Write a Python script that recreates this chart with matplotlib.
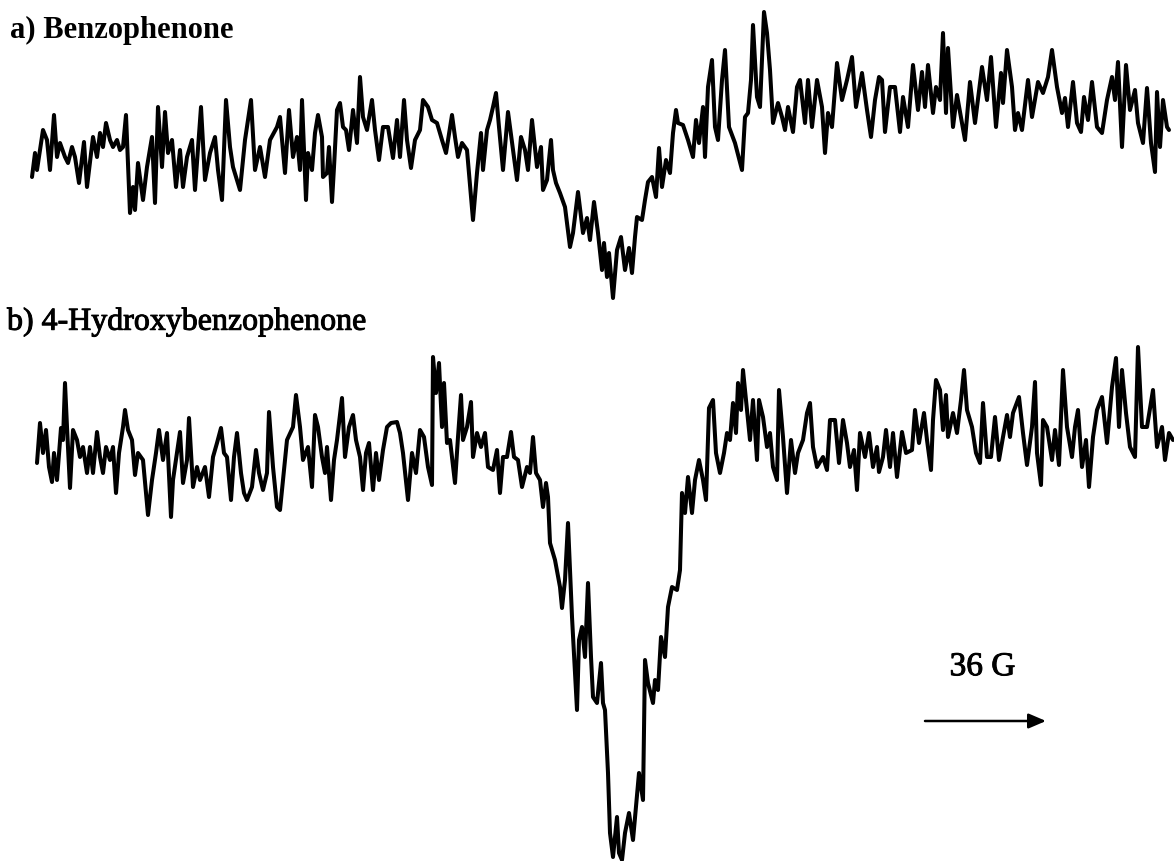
import matplotlib
matplotlib.use("Agg")
import matplotlib.pyplot as plt
import matplotlib.patheffects as pe

# ESR traces (field position, pen deflection; deflection grows downward)
field_a = [32, 35, 37, 43, 47, 50, 54, 57, 60, 65, 68, 72, 75, 79, 84, 87, 93, 97, 100, 103,
           106, 110, 113, 117, 120, 123, 126, 130, 133, 135, 138, 143, 147, 152, 155, 158, 162, 165, 168, 172,
           176, 180, 183, 187, 192, 195, 201, 205, 210, 215, 218, 222, 226, 230, 233, 240, 245, 251, 255, 260,
           265, 270, 277, 280, 285, 289,
           293, 297, 300, 302, 306, 308, 312, 315, 318, 322, 323, 327, 329, 332, 334, 337, 340, 343, 346, 349,
           353, 357, 360, 363, 367, 372, 375, 379, 383, 388, 393, 397, 400, 404, 407, 411, 415, 420, 423, 428,
           432, 437, 442, 446, 452, 455, 458, 462, 467, 473, 477, 481, 483, 487, 490, 493, 496, 499, 503, 508,
           513, 517, 521, 525, 528, 532, 537, 541, 543, 547, 551, 553, 556, 560, 565, 570, 573, 578,
           583, 587, 590, 594, 598, 602, 604, 607, 609, 613, 617, 621, 625, 629, 632, 635, 637, 642, 645, 648,
           652, 656, 659, 662, 666, 670, 673, 676, 678, 683, 688, 693, 696, 699, 703, 705, 708, 712, 715, 718,
           722, 725, 729, 735, 742, 745, 748, 751, 753, 757, 760, 764, 767, 770, 773, 778, 782, 785, 788, 793,
           797, 800, 805, 808, 812, 817, 822, 825, 828, 832, 837, 842, 847, 852, 856, 862, 867, 871, 875, 879,
           882, 885, 890, 895, 900, 903, 908, 913, 918, 922, 925, 928, 933, 936, 940, 943, 946, 948, 953, 957,
           965, 970, 975, 982, 987, 991, 996, 1001, 1003, 1007, 1012, 1015, 1018, 1022, 1028, 1032, 1038, 1043, 1048, 1052,
           1057, 1062, 1065, 1068, 1073, 1077, 1081, 1084, 1088, 1092, 1097, 1102, 1107, 1112, 1115, 1118, 1122, 1126, 1130, 1135,
           1138, 1143, 1147, 1151, 1155, 1157, 1160, 1163, 1167, 1169]
signal_a = [177, 153, 170, 130, 140, 170, 115, 157, 143, 157, 163, 147, 157, 183, 142, 187, 137, 157, 133, 147,
            123, 140, 147, 140, 150, 147, 115, 213, 187, 210, 163, 200, 167, 137, 203, 107, 167, 112, 153, 140,
            187, 150, 187, 157, 140, 190, 107, 180, 153, 137, 170, 200, 100, 147, 167, 190, 140, 100, 170, 147,
            177, 140, 127, 117, 173, 110,
            157, 137, 170, 100, 200, 153, 170, 133, 115, 137, 177, 173, 147, 202, 167, 110, 103, 127, 130, 150,
            110, 143, 77, 117, 130, 100, 130, 160, 127, 127, 158, 120, 157, 100, 140, 168, 140, 130, 100, 107,
            120, 123, 140, 153, 115, 137, 157, 143, 150, 220, 173, 133, 170, 130, 120, 107, 93, 127, 170, 112,
            150, 180, 137, 150, 170, 120, 167, 147, 190, 180, 140, 170, 183, 193, 207, 247, 233, 192,
            233, 218, 240, 202, 233, 270, 243, 277, 253, 298, 250, 237, 270, 248, 273, 237, 217, 220, 200, 182,
            177, 197, 148, 187, 160, 173, 133, 110, 123, 125, 140, 157, 120, 143, 107, 157, 87, 60, 127, 140,
            80, 50, 127, 143, 170, 117, 113, 80, 25, 97, 107, 12, 33, 70, 123, 103, 117, 130, 107, 132,
            87, 80, 123, 80, 127, 80, 107, 153, 113, 127, 63, 100, 80, 57, 107, 73, 110, 137, 100, 77,
            80, 132, 87, 87, 132, 97, 127, 65, 110, 72, 107, 65, 113, 87, 100, 33, 113, 48, 127, 95,
            140, 82, 123, 67, 100, 57, 127, 73, 103, 50, 87, 130, 113, 130, 80, 117, 82, 93, 77, 50,
            87, 113, 98, 127, 82, 123, 132, 97, 120, 82, 127, 133, 100, 77, 100, 62, 147, 65, 110, 90,
            123, 143, 88, 143, 172, 92, 147, 100, 127, 130]

field_b = [37, 40, 43, 46, 49, 52, 54, 57, 61, 63, 65, 67, 70, 73, 77, 80, 83, 87, 90, 93,
           97, 100, 103, 106, 110, 113, 116, 119, 123, 125, 128, 132, 135, 138, 143, 148, 152, 156, 159, 163,
           167, 171, 173, 177, 180, 183, 187, 189, 193, 197, 200, 205, 209, 213, 217, 221, 224, 227, 231, 234,
           237, 241, 244, 247, 252, 256, 259, 263, 267, 269, 273, 277, 280, 284, 287, 293, 296,
           300, 303, 308, 312, 315, 318, 322, 325, 327, 331, 334, 337, 342, 345, 349, 353, 356, 360, 363, 366,
           369, 373, 376, 379, 383, 387, 391, 397, 400, 403, 408, 412, 416, 420, 424, 428, 432, 433, 436, 439,
           442, 444, 447, 450, 455, 458, 461, 463, 467, 471, 473, 477, 481, 485, 488, 493, 497, 500, 503, 507,
           511, 514, 518, 522, 527, 530, 533, 536, 540, 543, 546, 548,
           550, 555, 560, 562, 565, 568, 572, 575, 577, 579, 582, 585, 588, 591, 593, 597, 601, 603, 605, 608,
           610, 613, 617, 619, 622, 625, 629, 633, 636, 639, 643, 645, 648, 653, 655, 658, 661, 665, 668, 672,
           677, 680,
           682, 685, 688, 692, 695, 699, 703, 706, 709, 713, 716, 720, 724, 727, 730, 733, 736, 738, 741, 743,
           747, 750, 753, 757, 759, 763, 767, 770, 773, 777, 779, 783, 787, 791, 795, 798, 803, 807, 810, 813,
           817, 823, 827, 830, 835, 839, 843, 847, 850, 854, 857, 860, 865, 869, 873, 877,
           879, 883, 886, 890, 893, 897, 902, 906, 912, 915, 919, 924, 927, 931, 933, 936, 940, 943, 946, 948,
           953, 957, 961, 964, 967, 972, 976, 980, 983, 987, 991, 995, 999, 1003, 1007, 1010, 1013, 1019, 1023, 1027,
           1032, 1035, 1037, 1041, 1043, 1047, 1052, 1055, 1059, 1063, 1067, 1072, 1075, 1078, 1082, 1086, 1089, 1093, 1097, 1102,
           1107, 1112, 1116, 1119, 1122, 1126, 1130, 1135, 1138, 1142, 1147, 1153, 1157, 1162, 1165, 1169, 1173]
signal_b = [463, 423, 453, 430, 467, 482, 453, 480, 428, 440, 383, 427, 488, 430, 440, 457, 447, 473, 447, 473,
            432, 457, 473, 447, 460, 447, 493, 453, 427, 410, 430, 440, 475, 453, 460, 515, 480, 453, 430, 460,
            433, 517, 480, 453, 432, 483, 460, 418, 487, 467, 480, 467, 497, 457, 443, 428, 453, 457, 500, 457,
            433, 473, 493, 500, 487, 450, 473, 490, 473, 412, 467, 507, 510, 470, 440, 427, 395,
            427, 460, 447, 487, 415, 427, 457, 473, 447, 500, 460, 440, 398, 457, 427, 415, 440, 457, 490, 453,
            443, 490, 453, 480, 450, 427, 423, 422, 433, 453, 500, 453, 473, 430, 437, 467, 485, 357, 393, 363,
            427, 383, 443, 440, 483, 437, 395, 440, 427, 402, 457, 433, 447, 433, 467, 470, 450, 493, 457, 457,
            432, 457, 460, 487, 467, 473, 437, 473, 480, 507, 483, 497,
            543, 560, 587, 608, 580, 523, 617, 673, 710, 640, 627, 657, 583, 657, 697, 703, 663, 703, 710, 773,
            833, 857, 817, 853, 860, 833, 813, 840, 807, 773, 800, 660, 683, 703, 680, 690, 637, 657, 607, 587,
            590, 570,
            493, 513, 477, 513, 480, 460, 480, 500, 408, 400, 453, 473, 453, 433, 440, 403, 433, 383, 410, 370,
            410, 440, 400, 460, 400, 417, 447, 433, 467, 480, 390, 437, 493, 440, 473, 453, 440, 413, 403, 447,
            467, 457, 470, 420, 420, 463, 420, 443, 467, 450, 490, 433, 457, 433, 467, 447,
            472, 457, 430, 467, 433, 477, 432, 453, 450, 410, 443, 413, 440, 470, 420, 380, 390, 430, 395, 437,
            413, 433, 400, 370, 410, 427, 453, 463, 403, 457, 457, 417, 460, 437, 415, 437, 413, 397, 433, 465,
            427, 382, 453, 485, 420, 427, 460, 430, 465, 370, 427, 457, 427, 410, 467, 440, 487, 437, 410, 397,
            443, 387, 358, 427, 370, 413, 447, 457, 347, 427, 427, 390, 447, 427, 460, 433, 440]

labels = ["a) Benzophenone", "b) 4-Hydroxybenzophenone"]
scale_label = "36 G"
scale_start, scale_end = 925, 1046

W, H = 1174, 861
fig = plt.figure(figsize=(W / 100, H / 100), dpi=100)
fig.patch.set_facecolor("white")

split = 320
ax_a = fig.add_axes([0, 1 - split / H, 1, split / H])
ax_b = fig.add_axes([0, 0, 1, 1 - split / H])
ax_a.set_xlim(0, W)
ax_a.set_ylim(split, 0)
ax_b.set_xlim(0, W)
ax_b.set_ylim(H, split)

line_kw = dict(color="black", lw=2.9, solid_joinstyle="round", solid_capstyle="round")
ax_a.plot(field_a, signal_a, **line_kw)
ax_b.plot(field_b, signal_b, **line_kw)

for ax in (ax_a, ax_b):
    ax.axis("off")

serif = ["Liberation Serif", "DejaVu Serif"]
heavy = [pe.withStroke(linewidth=0.7, foreground="black")]
ax_a.text(10, 30, labels[0], family=serif, fontsize=22, fontweight="bold",
          ha="left", va="center")
ax_b.text(7, 322, labels[1], family=serif, fontsize=23,
          ha="left", va="center", path_effects=heavy)

ax_b.text((scale_start + scale_end) / 2 - 3, 667, scale_label, family=serif,
          fontsize=24, ha="center", va="center", path_effects=heavy)
ax_b.annotate("", xy=(scale_end, 721), xytext=(scale_start, 721),
              arrowprops=dict(arrowstyle="-|>,head_length=0.7,head_width=0.3",
                              mutation_scale=15, color="black", lw=1.8,
                              shrinkA=0, shrinkB=0))

fig.savefig("out.png", dpi=100, facecolor="white")
